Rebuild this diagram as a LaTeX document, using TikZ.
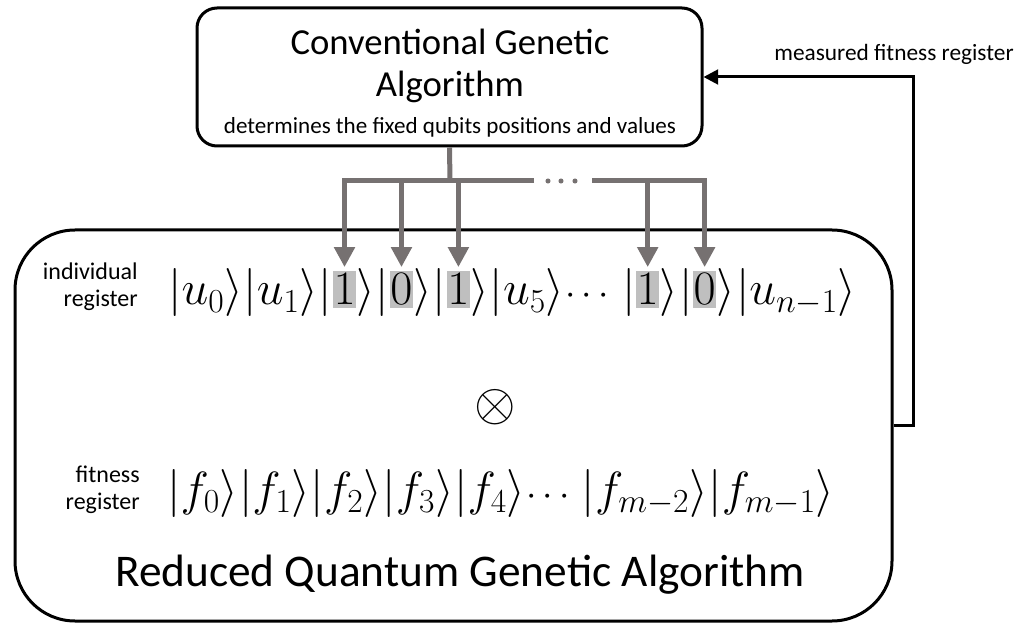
\RequirePackage{fix-cm}
\documentclass[tikz,border=0pt]{standalone}
\usepackage[no-math]{fontspec}
\setmainfont{Carlito}
\usepackage{amsmath,amssymb}
\usetikzlibrary{arrows.meta,positioning,calc}

\definecolor{busgray}{RGB}{118,113,113}
\definecolor{bitshade}{RGB}{191,191,191}

\tikzset{
  gabox/.style={draw, line width=2.25pt, inner sep=0pt},
  bus/.style={draw=busgray, line width=3.75pt},
  busarrow/.style={bus, -{Triangle[width=15pt,length=15pt]}, shorten >=3pt},
  ket/.style={inner sep=0pt, font=\fontsize{36}{43}\selectfont},
  ketdots/.style={inner sep=0pt, font=\fontsize{28}{34}\selectfont},
  bit/.style={ket, fill=bitshade, inner xsep=0.5pt, inner ysep=2pt, text depth=0pt},
  note/.style={font=\fontsize{18}{20}\selectfont, align=right, inner sep=0pt},
}

\begin{document}
\begin{tikzpicture}[x=0.75pt,y=0.75pt,yscale=-1,xscale=1, node distance=0pt]
\useasboundingbox (0,0) rectangle (1026,624);

%Shape: Rounded Rect [id:cga]
\node[gabox, rounded corners=15pt, minimum width=378.75pt, minimum height=103.5pt] (cga) at (449.5,77) {};
% Text Node
\node[font=\fontsize{27.5}{32}\selectfont, align=center] (cgatitle) at (450,66) {Conventional Genetic\\Algorithm};
% Text Node
\node[font=\fontsize{17.3}{20}\selectfont] (cgasub) at (450,127) {determines the fixed qubits positions and values};

%Shape: Rounded Rect [id:rqga]
\node[gabox, rounded corners=45pt, minimum width=657.75pt, minimum height=293.25pt] (rqga) at (453.5,425.5) {};
% Text Node
\node[font=\fontsize{34}{40}\selectfont] (rqgatitle) at (460,575) {Reduced Quantum Genetic Algorithm};

% Text Node
\node[note, anchor=east] (indlab) at (138,287) {individual\\register};
% Text Node
\node[note, anchor=east] (fitlab) at (140,490) {fitness\\register};

%individual register
\node[ket, anchor=base west] (u0) at (168,305) {$|u_0\rangle$};
\node[ket, base right=of u0] (u1) {$|u_1\rangle$};
\node[ket, base right=of u1] (b1l) {$|$};
\node[bit, base right=of b1l] (b1) {$1$};
\node[ket, base right=of b1] (b1r) {$\rangle$};
\node[ket, base right=of b1r] (b2l) {$|$};
\node[bit, base right=of b2l] (b2) {$0$};
\node[ket, base right=of b2] (b2r) {$\rangle$};
\node[ket, base right=of b2r] (b3l) {$|$};
\node[bit, base right=of b3l] (b3) {$1$};
\node[ket, base right=of b3] (b3r) {$\rangle$};
\node[ket, base right=of b3r] (u5) {$|u_5\rangle$};
\node[ketdots, base right=of u5] (udots) {$\cdots$};
\node[ket, base right=5pt of udots] (b4l) {$|$};
\node[bit, base right=of b4l] (b4) {$1$};
\node[ket, base right=of b4] (b4r) {$\rangle$};
\node[ket, base right=of b4r] (b5l) {$|$};
\node[bit, base right=of b5l] (b5) {$0$};
\node[ket, base right=of b5] (b5r) {$\rangle$};
\node[ket, base right=of b5r] (un) {$|u_{n-1}\rangle$};

% Text Node
\node[font=\fontsize{40}{48}\selectfont, inner sep=0pt] (otimes) at (495,407) {$\otimes$};

%fitness register
\node[ket, anchor=base west] (f0) at (167,505) {$|f_0\rangle$};
\node[ket, base right=of f0] (f1) {$|f_1\rangle$};
\node[ket, base right=of f1] (f2) {$|f_2\rangle$};
\node[ket, base right=of f2] (f3) {$|f_3\rangle$};
\node[ket, base right=of f3] (f4) {$|f_4\rangle$};
\node[ketdots, base right=of f4] (fdots) {$\cdots$};
\node[ket, base right=4pt of fdots] (fm2) {$|f_{m-2}\rangle$};
\node[ket, base right=of fm2] (fm1) {$|f_{m-1}\rangle$};

%Straight Lines: fixed qubit bus
\coordinate (bar) at (450,181);
\coordinate (barL) at (534,181);
\coordinate (barR) at (592,181);
\draw[bus] (cga.south) -- (bar);
\draw[busarrow] (barL) -- (b1 |- bar) -- (b1.north);
\draw[busarrow] (b2 |- bar) -- (b2.north);
\draw[busarrow] (b3 |- bar) -- (b3.north);
\draw[busarrow] (barR) -- (b5 |- bar) -- (b5.north);
\draw[busarrow] (b4 |- bar) -- (b4.north);
\fill[busgray] (548,181) circle (1.9pt);
\fill[busgray] (561,181) circle (1.9pt);
\fill[busgray] (575,181) circle (1.9pt);

%Straight Lines: feedback
\draw[line width=2.25pt, -{Triangle[width=11pt,length=11pt]}] (rqga.east) -- ++(20,0) |- (cga.east);
% Text Node
\node[font=\fontsize{17.5}{20}\selectfont] (fblab) at (894,54) {measured fitness register};

\end{tikzpicture}
\end{document}
